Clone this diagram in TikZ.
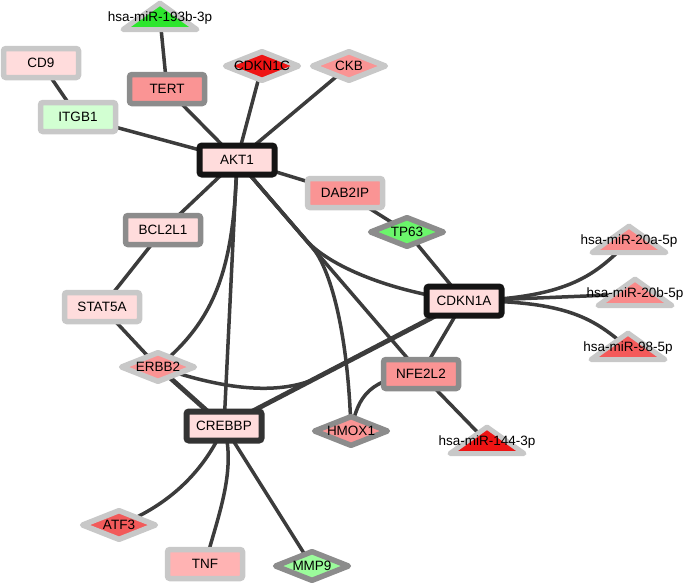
\documentclass[tikz,border=0pt]{standalone}
\usepackage{fontspec}
\setmainfont{Liberation Sans}
\usetikzlibrary{shapes.geometric}
\pgfdeclarelayer{bg}
\pgfdeclarelayer{mid}
\pgfsetlayers{bg,mid,main}
\definecolor{lgrey}{HTML}{C8C8C8}
\definecolor{dgrey}{HTML}{8C8C8C}
\definecolor{edgec}{HTML}{3C3C3C}
\definecolor{pinkL}{HTML}{FFDCDC}
\definecolor{salmon}{HTML}{FA9494}
\definecolor{tnfc}{HTML}{FFB3B3}
\definecolor{redc}{HTML}{EE1414}
\definecolor{atfc}{HTML}{F25A5A}
\definecolor{mnine}{HTML}{F45A5A}
\definecolor{mtwenty}{HTML}{F98A8A}
\definecolor{greenA}{HTML}{2EE62E}
\definecolor{greenB}{HTML}{6BF56B}
\definecolor{greenC}{HTML}{9BFC9B}
\definecolor{greenD}{HTML}{D2FFD2}
\newcommand\zb[1]{\makebox[0pt]{#1}}
\tikzset{
  base/.style={font=\fontsize{13.5}{16}\selectfont, text=black, inner sep=0pt},
  rectnode/.style={base, rectangle, rounded corners=2.5pt, minimum width=75pt, minimum height=29pt, line width=5.5pt},
  dianode/.style={base, diamond, aspect=2, minimum width=75pt, minimum height=31pt, line width=5.5pt, line join=round},
  lgb/.style={draw=lgrey},
  dgb/.style={draw=dgrey},
  blk/.style={draw=black!92, line width=6pt},
  edge/.style={draw=edgec, line width=3.5pt},
  thickedge/.style={draw=edgec, line width=4.8pt},
  tri/.style={draw=lgrey, line width=5pt, line join=round},
  mirlabel/.style={base}
}
\newcommand\mirtri[2]{\draw[tri, fill=#2] ([shift={(0,-15)}]#1.center) -- ([shift={(37,11.5)}]#1.center) -- ([shift={(-37,11.5)}]#1.center) -- cycle;}
\begin{document}
\begin{tikzpicture}[x=1pt, y=-1pt]
\useasboundingbox (0,0) rectangle (685,584);
% rectangle nodes
\node[rectnode, lgb, fill=pinkL] (cd9) at (41,63) {CD9};
\node[rectnode, dgb, fill=salmon] (tert) at (167,89) {TERT};
\node[rectnode, lgb, fill=greenD] (itgb1) at (78,117) {ITGB1};
\node[rectnode, blk, fill=pinkL] (akt1) at (237,160) {AKT1};
\node[rectnode, lgb, fill=salmon] (dab2ip) at (345,193) {DAB2IP};
\node[rectnode, dgb, fill=pinkL] (bcl2l1) at (163,230) {BCL2L1};
\node[rectnode, lgb, fill=pinkL] (stat5a) at (102,307) {STAT5A};
\node[rectnode, blk, fill=pinkL] (cdkn1a) at (464,301) {CDKN1A};
\node[rectnode, dgb, fill=salmon] (nfe2l2) at (421,374) {NFE2L2};
\node[rectnode, draw=black!80, line width=6pt, fill=pinkL] (crebbp) at (224,426) {CREBBP};
\node[rectnode, lgb, fill=tnfc] (tnf) at (205,564) {TNF};
% diamond nodes
\node[dianode, lgb, fill=redc] (cdkn1c) at (262,66) {\zb{CDKN1C}};
\node[dianode, lgb, fill=salmon] (ckb) at (349,66) {\zb{CKB}};
\node[dianode, dgb, fill=greenB] (tp63) at (407,232) {\zb{TP63}};
\node[dianode, lgb, fill=salmon] (erbb2) at (158,367) {\zb{ERBB2}};
\node[dianode, dgb, fill=salmon] (hmox1) at (351,431) {\zb{HMOX1}};
\node[dianode, lgb, fill=atfc] (atf3) at (119,525) {\zb{ATF3}};
\node[dianode, dgb, fill=greenC] (mmp9) at (312,566) {\zb{MMP9}};
% miRNA nodes (label + triangle)
\node[mirlabel] (m193) at (160,18) {hsa-miR-193b-3p};
\node[mirlabel] (m20a) at (629,241) {hsa-miR-20a-5p};
\node[mirlabel] (m20b) at (635,294) {hsa-miR-20b-5p};
\node[mirlabel] (m98) at (628,348) {hsa-miR-98-5p};
\node[mirlabel] (m144) at (487,442) {hsa-miR-144-3p};
\begin{pgfonlayer}{mid}
\mirtri{m193}{greenA}
\mirtri{m20a}{mtwenty}
\mirtri{m20b}{mtwenty}
\mirtri{m98}{mnine}
\mirtri{m144}{redc}
\end{pgfonlayer}
% edges
\begin{pgfonlayer}{bg}
\draw[edge] (cd9.center) -- (itgb1.center);
\draw[edge] (itgb1.center) -- (akt1.center);
\draw[edge] (tert.center) -- (m193.center);
\draw[edge] (tert.center) -- (akt1.center);
\draw[edge] (cdkn1c.center) -- (akt1.center);
\draw[edge] (ckb.center) -- (akt1.center);
\draw[edge] (akt1.center) -- (dab2ip.center);
\draw[edge] (akt1.center) -- (bcl2l1.center);
\draw[edge] (dab2ip.center) -- (tp63.center);
\draw[edge] (tp63.center) -- (cdkn1a.center);
\draw[edge] (bcl2l1.center) -- (stat5a.center);
\draw[edge] (stat5a.center) -- (erbb2.center);
\draw[edge] (akt1.center) .. controls (234,270) and (215,320) .. (erbb2.center);
\draw[edge] (akt1.center) -- (crebbp.center);
\draw[edge] (akt1.center) -- (306,240) .. controls (325,262) and (380,290) .. (cdkn1a.center);
\draw[edge] (akt1.center) -- (nfe2l2.center);
\draw[edge] (akt1.center) -- (312,247) .. controls (330,268) and (348,330) .. (hmox1.center);
\draw[edge] (cdkn1a.center) .. controls (570,298) and (595,275) .. (m20a.center);
\draw[edge] (cdkn1a.center) -- (m20b.center);
\draw[edge] (cdkn1a.center) .. controls (570,300) and (595,320) .. (m98.center);
\draw[edge] (cdkn1a.center) -- (nfe2l2.center);
\draw[thickedge] (cdkn1a.center) -- (crebbp.center);
\draw[edge] (erbb2.center) .. controls (220,388) and (270,395) .. (310,381) -- (cdkn1a.center);
\draw[thickedge] (erbb2.center) -- (crebbp.center);
\draw[edge] (nfe2l2.center) .. controls (370,378) and (358,395) .. (hmox1.center);
\draw[edge] (nfe2l2.center) -- (m144.center);
\draw[edge] (crebbp.center) .. controls (205,470) and (170,505) .. (atf3.center);
\draw[edge] (crebbp.center) .. controls (236,470) and (220,510) .. (tnf.center);
\draw[edge] (crebbp.center) -- (mmp9.center);
\end{pgfonlayer}
\end{tikzpicture}
\end{document}
